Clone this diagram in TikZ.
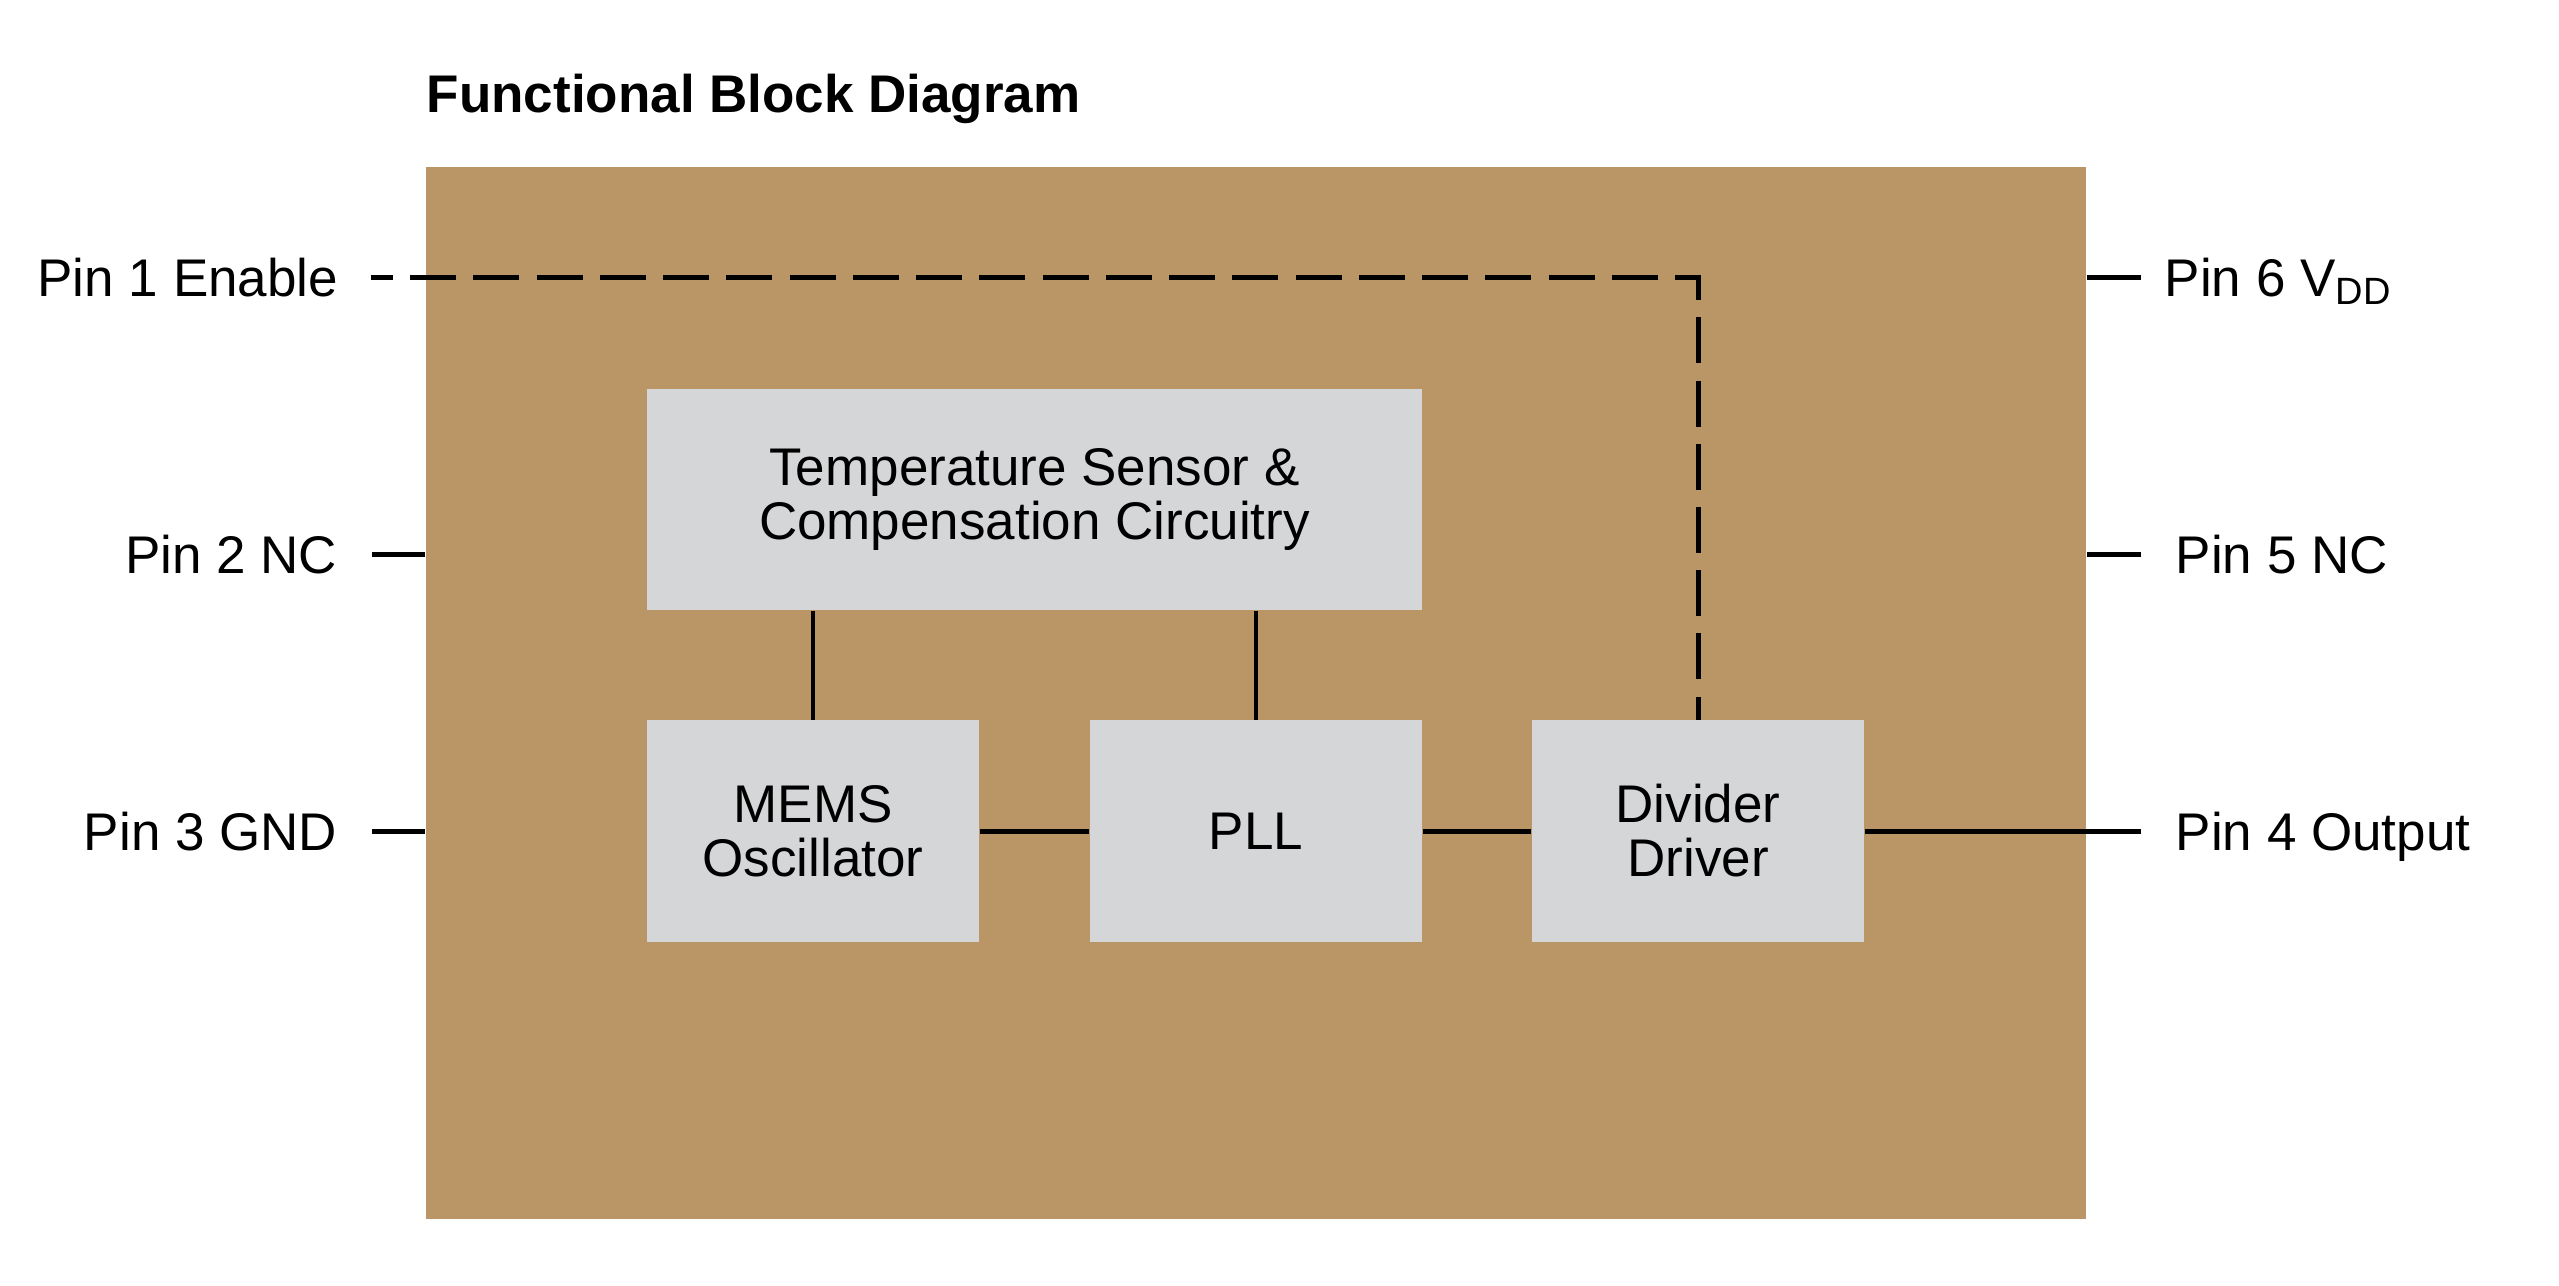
\documentclass[tikz,border=0pt]{standalone}
\usepackage{fontspec}
\setmainfont{Liberation Sans}
\definecolor{chiptan}{RGB}{186,150,102}
\definecolor{blockgray}{RGB}{213,214,216}
\newcommand\lblfont{\fontsize{13.25pt}{13.5pt}\selectfont}
\newcommand\subfont{\fontsize{9.5pt}{10pt}\selectfont}
\begin{document}
\begin{tikzpicture}[x=0.25pt,y=-0.25pt,
  wire/.style={line width=1.25pt},
  linkwire/.style={line width=1.15pt},
  enwire/.style={line width=1.25pt, dash pattern=on 11.5pt off 4.31pt, dash phase=6pt},
  chipbox/.style={fill=chiptan, draw=none, inner sep=0pt, minimum width=415pt, minimum height=263pt},
  block/.style={fill=blockgray, draw=none, inner sep=0pt, align=center, font=\lblfont,
                minimum width=83pt, minimum height=55.3pt},
  lbl/.style={inner sep=0pt, font=\lblfont}]
\useasboundingbox[fill=white] (0,0) rectangle (2559,1285);

% title
\node[lbl, font=\lblfont\bfseries, anchor=base west] (title) at (426,112) {Functional Block Diagram};

% chip body
\node[chipbox] (chip) at (1256,693) {};

% blocks
\node[block, minimum width=193.75pt, minimum height=55.25pt] (temp) at (1034.5,499.5)
  {Temperature Sensor \&\\Compensation Circuitry};
\node[block] (mems) at (813,831) {MEMS\\Oscillator};
\node[block] (pll) at (1256,831) {PLL};
\node[block] (div) at (1698,831) {Divider\\Driver};

% pin labels
\node[lbl, anchor=base east] (l1) at (339,296) {Pin 1 Enable};
\node[lbl, anchor=base east] (l2) at (338,573) {Pin 2 NC};
\node[lbl, anchor=base east] (l3) at (338,850) {Pin 3 GND};
\node[lbl, anchor=base west] (l6) at (2164,296) {Pin 6 V\raisebox{-2pt}{\subfont DD}};
\node[lbl, anchor=base west] (l5) at (2175,573) {Pin 5 NC};
\node[lbl, anchor=base west] (l4) at (2175,850) {Pin 4 Output};

% pin end points
\coordinate (p1) at (371,277);
\coordinate (p2) at (372,554);
\coordinate (p3) at (372,831);
\coordinate (p6) at (2141,277);
\coordinate (p5) at (2141,554);
\coordinate (p4) at (2141,831);

% pin wires
\draw[enwire] (p1) -| (div.north);
\draw[wire] (p2) -- (p2 -| chip.west);
\draw[wire] (p3) -- (p3 -| chip.west);
\draw[wire] (p6 -| chip.east) -- (p6);
\draw[wire] (p5 -| chip.east) -- (p5);
\draw[wire] (div.east) -- (div.east -| p4);

% internal links
\draw[linkwire] (mems.north) -- (mems.north |- temp.south);
\draw[linkwire] (pll.north) -- (pll.north |- temp.south);
\draw[wire] (mems.east) -- (pll.west);
\draw[wire] (pll.east) -- (div.west);
\end{tikzpicture}
\end{document}
